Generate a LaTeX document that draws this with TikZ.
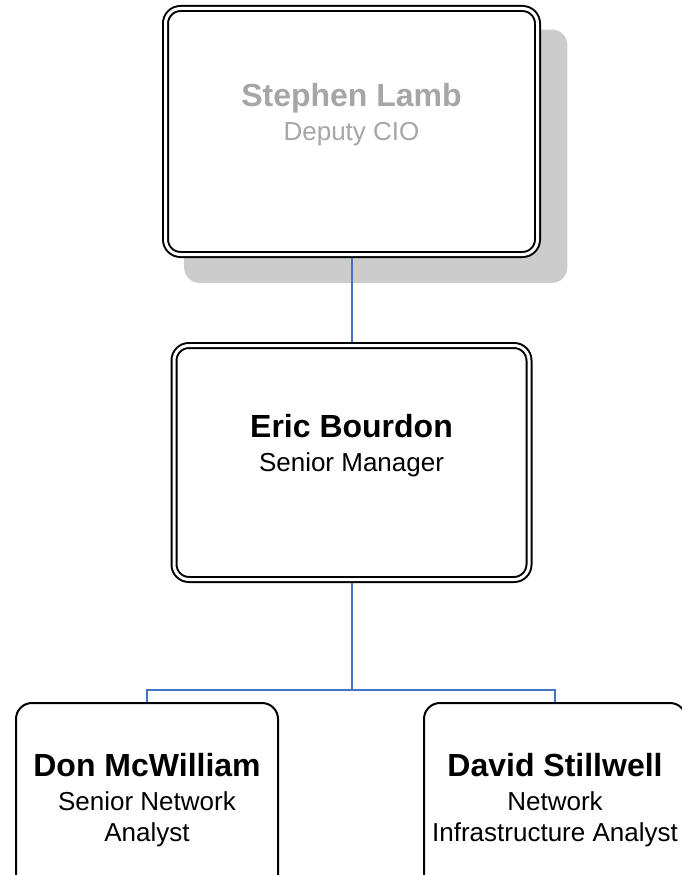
\documentclass[tikz,border=0pt]{standalone}
\usepackage{fontspec}
\setmainfont{Liberation Sans}
\usetikzlibrary{shadows}
\definecolor{linkblue}{HTML}{4472C4}
\definecolor{shadowgray}{HTML}{CCCCCC}
\definecolor{dimtext}{HTML}{A6A6A6}
\newcommand{\person}[2]{{\fontsize{32}{34}\selectfont\bfseries #1}\\[3pt]#2}
\begin{document}
\begin{tikzpicture}[x=1pt, y=-1pt, every node/.style={text centered},
	frame/.style={rectangle, draw, line width=2pt, rounded corners=16pt, fill=white,
		minimum width=262pt, minimum height=194pt},
	dframe/.style={rectangle, draw, line width=2pt, double=white, double distance=3pt,
		rounded corners=15pt, fill=white, outer sep=3.5pt},
	caption/.style={align=center, inner sep=0pt, font=\fontsize{26}{31}\selectfont},
	link/.style={draw=linkblue, line width=2pt}]
	\useasboundingbox (0,0) rectangle (682,875);

	% top level
	\node[dframe, minimum width=372pt, minimum height=246pt,
		drop shadow={shadow xshift=23.5pt, shadow yshift=-24pt, shadow scale=1.03,
			fill=shadowgray, opacity=1}] (lamb) at (351.5,131.5) {};
	\node[caption, text=dimtext] (lambtxt) at ([yshift=17pt]lamb.center)
		{\person{Stephen Lamb}{Deputy CIO}};

	% manager
	\node[dframe, minimum width=355pt, minimum height=234pt] (bourdon) at (351.5,462.5) {};
	\node[caption] (bourdontxt) at ([yshift=17pt]bourdon.center)
		{\person{Eric Bourdon}{Senior Manager}};

	% staff
	\node[frame] (mcwilliam) at (147,800) {};
	\node[caption] (mcwilliamtxt) at (mcwilliam.center)
		{\person{Don McWilliam}{Senior Network\\Analyst}};
	\node[frame] (stillwell) at (555,800) {};
	\node[caption] (stillwelltxt) at (stillwell.center)
		{\person{David Stillwell}{Network\\Infrastructure Analyst}};

	\coordinate (fork) at (351.5,690);
	\draw[link] (lamb.south) -- (bourdon.north);
	\draw[link] (bourdon.south) -- (fork) -| (mcwilliam.north);
	\draw[link] (fork) -| (stillwell.north);
\end{tikzpicture}
\end{document}
